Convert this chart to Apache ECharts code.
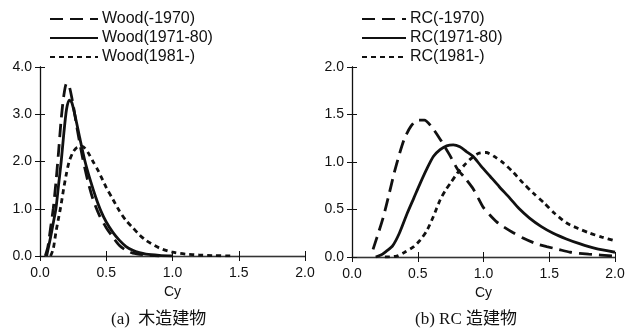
<!DOCTYPE html>
<html>
<head>
<meta charset="utf-8">
<script src="https://cdn.jsdelivr.net/npm/echarts@6/dist/echarts.min.js"></script>
<style>
  html, body { margin: 0; padding: 0; background: #fff; }
  #chart { width: 628px; height: 335px; }
</style>
</head>
<body>
<div id="chart"></div>
<script>
// Distribution curves of yield strength coefficient Cy by construction period
const cyTicks = [0, 0.5, 1.0, 1.5, 2.0];

// (a) wooden buildings: [Cy, density]
const wood1970 = [[0.04,0],[0.06,0.2],[0.08,0.6],[0.10,1.0],[0.12,1.55],[0.14,2.2],[0.16,2.9],[0.18,3.4],[0.20,3.65],[0.22,3.6],[0.25,3.2],[0.28,2.7],[0.32,2.1],[0.36,1.6],[0.40,1.2],[0.45,0.85],[0.50,0.6],[0.55,0.4],[0.60,0.22],[0.65,0.12],[0.70,0.06],[0.80,0.02],[0.90,0]];
const wood7180 = [[0.05,0],[0.08,0.4],[0.10,0.7],[0.12,1.0],[0.14,1.5],[0.16,2.0],[0.18,2.6],[0.20,3.1],[0.22,3.3],[0.24,3.25],[0.27,2.9],[0.30,2.5],[0.34,2.0],[0.38,1.6],[0.42,1.25],[0.46,0.95],[0.50,0.72],[0.55,0.5],[0.60,0.33],[0.65,0.2],[0.70,0.12],[0.75,0.07],[0.80,0.04],[0.90,0.015],[1.00,0]];
const wood1981 = [[0.08,0],[0.10,0.15],[0.12,0.5],[0.14,0.8],[0.16,1.1],[0.18,1.45],[0.20,1.75],[0.22,2.0],[0.25,2.2],[0.28,2.3],[0.32,2.32],[0.36,2.2],[0.40,2.0],[0.44,1.8],[0.50,1.45],[0.55,1.2],[0.60,0.95],[0.65,0.75],[0.70,0.6],[0.75,0.45],[0.80,0.33],[0.90,0.17],[1.00,0.08],[1.10,0.04],[1.20,0.02],[1.30,0.01],[1.45,0]];

// (b) RC buildings: [Cy, density]
const rc1970 = [[0.16,0.08],[0.20,0.25],[0.24,0.43],[0.28,0.65],[0.32,0.88],[0.36,1.08],[0.40,1.25],[0.45,1.38],[0.50,1.44],[0.55,1.44],[0.60,1.38],[0.67,1.24],[0.74,1.08],[0.80,0.93],[0.86,0.83],[0.92,0.72],[0.96,0.62],[1.00,0.52],[1.05,0.44],[1.10,0.37],[1.15,0.32],[1.22,0.26],[1.30,0.20],[1.40,0.14],[1.48,0.11],[1.57,0.08],[1.66,0.05],[1.80,0.03],[2.00,0.01]];
const rc7180 = [[0.18,0],[0.22,0.02],[0.26,0.06],[0.31,0.12],[0.36,0.25],[0.42,0.46],[0.47,0.62],[0.52,0.78],[0.57,0.93],[0.62,1.06],[0.67,1.13],[0.72,1.17],[0.77,1.18],[0.82,1.16],[0.87,1.11],[0.92,1.06],[0.98,0.96],[1.05,0.85],[1.12,0.74],[1.20,0.62],[1.27,0.51],[1.35,0.41],[1.44,0.32],[1.53,0.25],[1.63,0.19],[1.73,0.14],[1.85,0.09],[2.00,0.05]];
const rc1981 = [[0.25,0],[0.34,0.01],[0.40,0.05],[0.47,0.11],[0.52,0.18],[0.57,0.28],[0.62,0.43],[0.67,0.60],[0.71,0.70],[0.75,0.78],[0.80,0.88],[0.85,0.96],[0.90,1.03],[0.96,1.09],[1.02,1.10],[1.08,1.06],[1.15,0.99],[1.22,0.90],[1.30,0.78],[1.38,0.67],[1.46,0.57],[1.54,0.46],[1.63,0.36],[1.72,0.30],[1.81,0.25],[1.90,0.21],[2.00,0.17]];

const woodNames = ['Wood(-1970)', 'Wood(1971-80)', 'Wood(1981-)'];
const rcNames = ['RC(-1970)', 'RC(1971-80)', 'RC(1981-)'];
const captions = ['(a)  木造建物', '(b) RC 造建物'];

const FONT = '"Liberation Sans", Arial, sans-serif';
const INK = '#111';
const longDash = [13, 7];
const shortDash = [5, 4];

const fmt = v => v.toFixed(1);

function xAxes(gridIndex) {
  return [
    { gridIndex, type: 'value', min: 0, max: 2, interval: 0.5, position: 'bottom',
      name: 'Cy', nameLocation: 'middle', nameGap: 29,
      nameTextStyle: { fontFamily: FONT, fontSize: 14, color: INK },
      axisLine: { show: true, lineStyle: { color: INK, width: 1.3 } },
      axisTick: { show: true, inside: true, length: 5, lineStyle: { color: INK, width: 1 } },
      axisLabel: { fontFamily: FONT, fontSize: 14, color: INK, margin: 10, formatter: fmt },
      splitLine: { show: false } },
    { gridIndex, type: 'value', min: 0, max: 2, interval: 0.5, position: 'top',
      axisLine: { show: true, lineStyle: { color: '#333', width: 1 } },
      axisTick: { show: true, inside: true, length: 5, lineStyle: { color: INK, width: 1 } },
      axisLabel: { show: false }, splitLine: { show: false } }
  ];
}
function yAxes(gridIndex, max, interval) {
  return [
    { gridIndex, type: 'value', min: 0, max, interval, position: 'left',
      axisLine: { show: true, lineStyle: { color: INK, width: 1.3 } },
      axisTick: { show: true, inside: true, length: 5, lineStyle: { color: INK, width: 1 } },
      axisLabel: { fontFamily: FONT, fontSize: 14, color: INK, margin: 8, formatter: fmt },
      splitLine: { show: false } },
    { gridIndex, type: 'value', min: 0, max, interval, position: 'right',
      axisLine: { show: true, lineStyle: { color: INK, width: 1 } },
      axisTick: { show: true, inside: true, length: 5, lineStyle: { color: INK, width: 1 } },
      axisLabel: { show: false }, splitLine: { show: false } }
  ];
}

function curve(name, data, xi, yi, dash) {
  return {
    name, type: 'line', data, xAxisIndex: xi, yAxisIndex: yi,
    symbol: 'none', smooth: 0.25, silent: true,
    lineStyle: { color: INK, width: 2.8, type: dash, cap: 'butt' },
    itemStyle: { color: INK }
  };
}

function legend(names, left, width) {
  return {
    data: names, orient: 'vertical', left, top: 6,
    itemWidth: width, itemHeight: 14, itemGap: 3,
    selectedMode: false,
    itemStyle: { opacity: 0 },
    textStyle: { fontFamily: FONT, fontSize: 16, color: INK, padding: [0, 0, 0, -1] }
  };
}

const chart = echarts.init(document.getElementById('chart'), null, { renderer: 'canvas' });
chart.setOption({
  backgroundColor: '#fff',
  animation: false,
  grid: [
    { left: 40, top: 67, width: 265, height: 189 },
    { left: 352, top: 67, width: 263, height: 190 }
  ],
  xAxis: [...xAxes(0), ...xAxes(1)],
  yAxis: [...yAxes(0, 4, 1), ...yAxes(1, 2, 0.5)],
  legend: [legend(woodNames, 44, 48), legend(rcNames, 356, 44)],
  series: [
    curve(woodNames[0], wood1970, 0, 0, longDash),
    curve(woodNames[1], wood7180, 0, 0, 'solid'),
    curve(woodNames[2], wood1981, 0, 0, shortDash),
    curve(rcNames[0], rc1970, 2, 2, longDash),
    curve(rcNames[1], rc7180, 2, 2, 'solid'),
    curve(rcNames[2], rc1981, 2, 2, shortDash)
  ],
  graphic: [
    { type: 'text', left: 111, top: 311,
      style: { text: captions[0], font: '17px "Liberation Serif", "Noto Sans CJK JP", serif', fill: INK } },
    { type: 'text', left: 415, top: 311,
      style: { text: captions[1], font: '17px "Liberation Serif", "Noto Sans CJK JP", serif', fill: INK } }
  ]
});
</script>
</body>
</html>
